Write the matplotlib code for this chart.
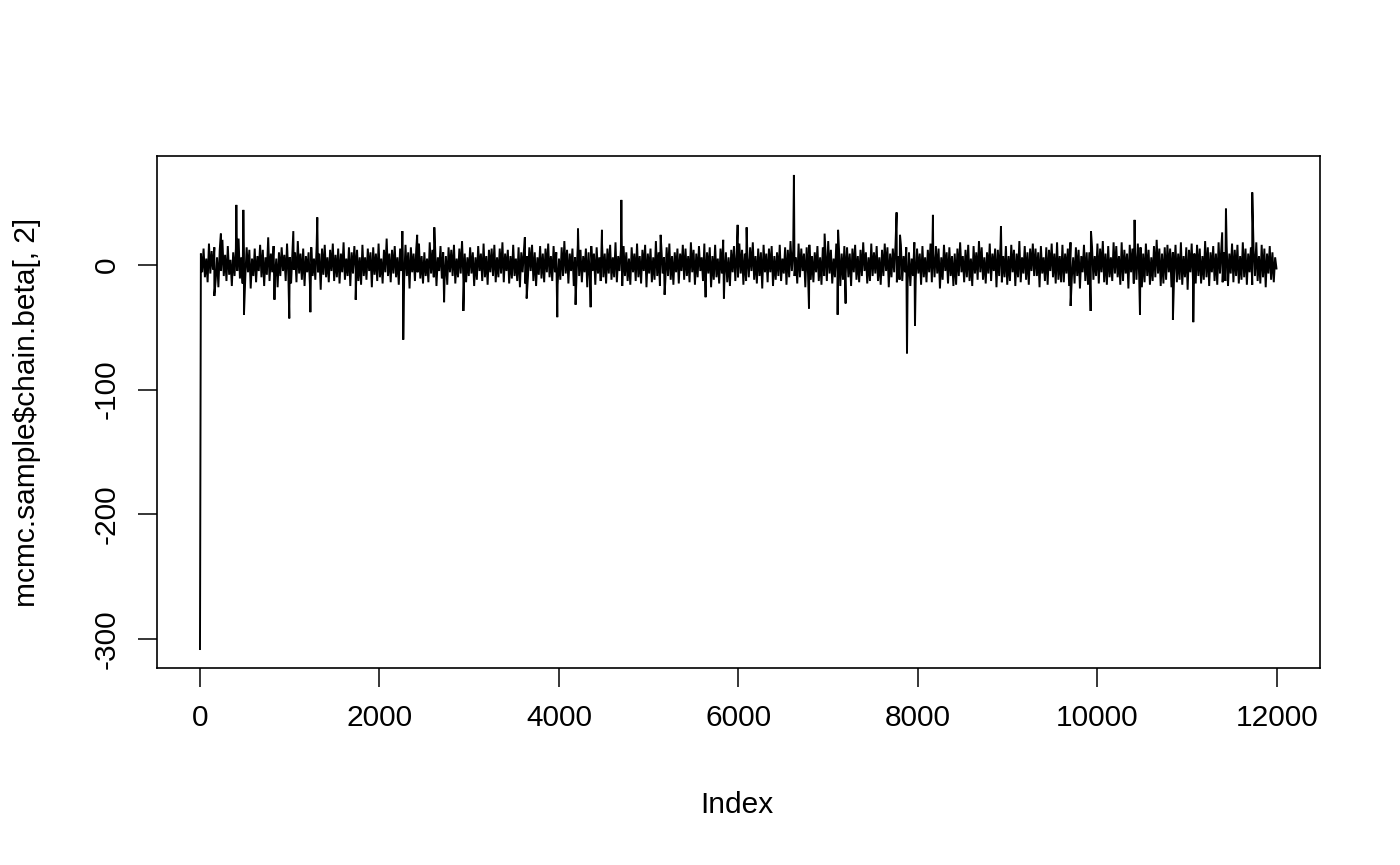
import matplotlib
matplotlib.use("Agg")
import matplotlib.pyplot as plt
import numpy as np

# --- data (trace of an MCMC chain) ---
# regular band values, one every 15 iterations starting at index 10
band_start = 10
band_step = 15
band_values = [
    9, -6, 13, -10, 5, -14, 17, -7, 11, -4, 14, -12, 6, -18, 12, -5, 20, -9, 8, -13,
    15, -8, 4, -17, 10, -9, 13, -5, 21, -11, 6, -15, 9, -10, 14, -6, 12, -19, 5, -9,
    13, -14, 7, -5, 16, -10, 12, -17, 6, -8, 22, -13, 9, -6, 15, -11, 5, -18, 10, -9,
    14, -5, 8, -13, 17, -9, 6, -15, 11, -4, 10, -14, 19, -7, 9, -12, 13, -17, 7, -6,
    10, -16, 14, -9, 5, -12, 15, -6, 9, -20, 13, -8, 16, -10, 6, -14, 12, -5, 17, -13,
    8, -10, 13, -15, 9, -6, 18, -12, 5, -9, 14, -17, 10, -7, 15, -4, 12, -13, 6, -16,
    16, -9, 6, -12, 13, -5, 10, -18, 14, -8, 9, -13, 17, -10, 5, -15, 12, -6, 21, -9,
    9, -14, 12, -7, 15, -10, 6, -16, 13, -5, 8, -12, 16, -9, 10, -19, 14, -6, 9, -13,
    13, -6, 17, -11, 7, -15, 10, -9, 5, -14, 18, -7, 12, -10, 14, -17, 6, -5, 15, -11,
    10, -13, 7, -16, 14, -6, 12, -9, 16, -15, 5, -10, 13, -7, 19, -12, 9, -14, 6, -9,
    14, -7, 10, -17, 6, -12, 15, -5, 9, -13, 17, -10, 7, -16, 12, -6, 13, -9, 16, -14,
    6, -10, 13, -7, 18, -14, 9, -5, 12, -15, 7, -11, 16, -9, 5, -13, 14, -18, 10, -6,
    12, -15, 7, -9, 14, -5, 16, -13, 10, -17, 6, -8, 15, -11, 9, -14, 13, -6, 17, -10,
    7, -13, 15, -6, 10, -16, 5, -12, 14, -9, 19, -7, 12, -15, 9, -5, 13, -17, 6, -10,
    16, -9, 12, -14, 7, -6, 13, -18, 10, -12, 15, -5, 9, -16, 14, -7, 6, -13, 17, -10,
    9, -15, 13, -7, 16, -12, 6, -10, 18, -14, 7, -5, 12, -17, 15, -9, 10, -13, 5, -16,
    14, -6, 9, -13, 17, -10, 7, -15, 12, -5, 16, -18, 9, -7, 13, -14, 6, -12, 19, -9,
    10, -17, 15, -7, 6, -13, 14, -9, 17, -12, 7, -16, 10, -6, 13, -15, 9, -5, 16, -12,
    13, -9, 7, -14, 18, -6, 12, -16, 9, -10, 15, -5, 6, -13, 17, -15, 10, -7, 14, -18,
    7, -12, 16, -10, 5, -15, 13, -7, 20, -9, 10, -14, 6, -17, 12, -6, 15, -13, 9, -10,
    17, -7, 12, -16, 9, -13, 6, -10, 14, -5, 18, -12, 7, -15, 13, -9, 10, -19, 16, -6,
    9, -14, 13, -6, 15, -17, 7, -12, 10, -9, 16, -13, 5, -7, 14, -16, 12, -10, 19, -5,
    12, -9, 6, -15, 17, -10, 13, -5, 9, -18, 14, -7, 16, -12, 7, -14, 10, -6, 15, -13,
    6, -16, 14, -9, 10, -13, 19, -7, 12, -15, 5, -10, 17, -6, 13, -17, 9, -12, 15, -7,
    14, -10, 9, -17, 13, -6, 16, -12, 7, -14, 12, -9, 18, -5, 10, -15, 6, -13, 17, -9,
    10, -7, 15, -13, 6, -16, 12, -9, 17, -5, 14, -18, 9, -10, 13, -6, 16, -14, 7, -12,
    16, -13, 7, -6, 14, -15, 10, -17, 5, -9, 18, -12, 13, -7, 9, -16, 15, -10, 6, -14,
    12, -6, 17, -14, 9, -10, 15, -7, 13, -19, 6, -12, 16, -5, 10, -15, 14, -9, 7, -17,
    9, -16, 13, -9, 18, -6, 7, -14, 12, -10, 16, -13, 5, -17, 15, -7, 10, -12, 19, -6,
    14, -12, 6, -15, 10, -7, 17, -13, 9, -5, 13, -18, 12, -9, 16, -14, 7, -10, 15, -16,
    7, -13, 16, -6, 12, -17, 9, -10, 19, -14, 6, -7, 15, -12, 10, -16, 13, -5, 17, -9,
    13, -9, 10, -18, 15, -7, 6, -13, 14, -16, 12, -5, 17, -10, 9, -15, 18, -12, 7, -14,
    16, -14, 9, -7, 13, -17, 18, -10, 6, -15, 14, -9, 12, -19, 7, -6, 16, -13, 10, -16,
    10, -17, 14, -12, 7, -9, 17, -15, 13, -6, 19, -14, 9, -16, 15, -10, 6, -13, 18, -7,
    15, -10, 7, -16, 18, -13, 12, -7, 9, -19, 16, -6, 13, -15, 10, -12, 17, -9, 14, -18,
    9, -14, 17, -9, 12, -16, 6, -13, 15, -10, 20, -7, 13, -17, 9, -15, 14, -12, 16, -6,
    13, -18, 10, -7, 16, -14, 9, -12, 18, -16, 7, -10, 14, -20, 12, -6, 17, -13, 9, -15,
    16, -9, 13, -15, 7, -12, 19, -10, 14, -17, 10, -6, 15, -13, 9, -16, 18, -7, 12, -14,
    10, -13, 15, -17, 9, -7, 17, -14, 12, -9, 16, -15, 7, -12, 18, -10, 13, -16, 9, -6,
    14, -16, 12, -9, 18, -13, 7, -15, 16, -10, 13, -18, 9, -7, 15, -12, 10, -14, 6, -3,
]

# isolated excursions (index, value)
spike_index = [0, 160, 233, 405, 483, 490, 830, 995, 1040, 1230, 1307, 1735,
               2255, 2265, 2420, 2611, 2720, 2935, 3620, 3640, 3981, 4185, 4212,
               4353, 4479, 4695, 5133, 5177, 5634, 5838, 5991, 6091, 6618, 6786,
               6960, 7105, 7110, 7194, 7762, 7800, 7878, 7967, 8167, 8925, 9701,
               9924, 9928, 10414, 10474, 10841, 11068, 11390, 11432, 11725]
spike_values = [-308, -25, 25, 48, 44, -40, -28, -43, 27, -38, 38, -28,
                27, -60, 24, 30, -30, -37, 22, -27, -42, -32, 29,
                -34, 28, 52, 24, -24, -26, -27, 32, 30, 72, -35,
                25, -40, 28, -31, 42, 24, -71, -49, 40, 31, -33,
                -37, 27, 36, -40, -44, -46, 26, 45, 58]

x_ticks = [0, 2000, 4000, 6000, 8000, 10000, 12000]
y_ticks = [0, -100, -200, -300]
n_iter = 12000
x_label = "Index"
y_label = r"mcmc.sample\$chain.beta[, 2]"

# --- assemble the trace ---
band_index = [band_start + band_step * i for i in range(len(band_values))]
idx = np.array(band_index + spike_index, dtype=float)
val = np.array(band_values + spike_values, dtype=float)
order = np.argsort(idx, kind="stable")
idx, val = idx[order], val[order]

plt.rcParams['font.family'] = ['Liberation Sans', 'DejaVu Sans']
fig = plt.figure(figsize=(14, 8.65), dpi=100)
ax = fig.add_axes([157 / 1400, 1 - 668 / 865, (1320 - 157) / 1400, (668 - 156) / 865])

ax.plot(idx, val, color="black", linewidth=1.4, solid_joinstyle="miter")

xr = n_iter - 1
ax.set_xlim(1 - 0.04 * xr, n_iter + 0.04 * xr)
yr = val.max() - val.min()
ax.set_ylim(val.min() - 0.04 * yr, val.max() + 0.04 * yr)

ax.set_xticks(x_ticks)
ax.set_xticklabels([str(t) for t in x_ticks])
ax.set_yticks(y_ticks)
ax.set_yticklabels([str(t) for t in y_ticks], rotation=90, va="center")
ax.tick_params(axis="both", direction="out", length=14, width=1.1,
               labelsize=21.5, color="black")
ax.tick_params(axis="x", pad=12)
ax.tick_params(axis="y", pad=12)
for s in ax.spines.values():
    s.set_linewidth(1.2)

fig.text(737 / 1400, 1 - 805 / 865, x_label, ha="center", va="center", fontsize=21.5)
fig.text(27 / 1400, 1 - 412 / 865, y_label, ha="center", va="center",
         rotation=90, fontsize=21.5)

fig.savefig("out.png", dpi=100)
